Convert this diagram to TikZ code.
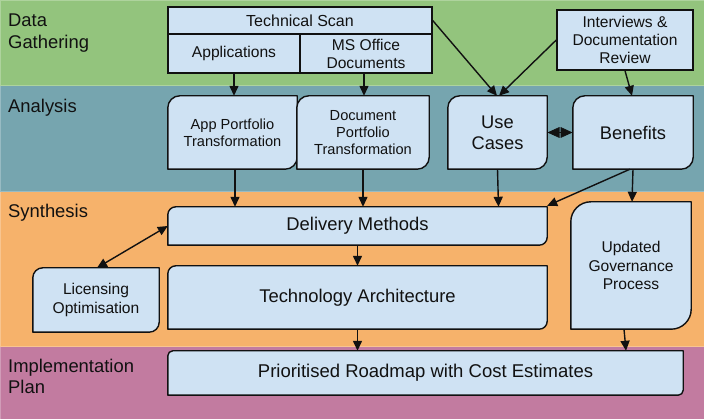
\documentclass[tikz,border=0pt]{standalone}
\usepackage{fontspec}
\setmainfont{Liberation Sans}
\usetikzlibrary{arrows.meta,calc}
\definecolor{bandgreen}{HTML}{93C47D}
\definecolor{bandteal}{HTML}{76A5AF}
\definecolor{bandorange}{HTML}{F6B26B}
\definecolor{bandpurple}{HTML}{C27BA0}
\definecolor{boxfill}{HTML}{CFE2F3}
\definecolor{inkc}{HTML}{111111}
\pgfdeclarelayer{bands}
\pgfdeclarelayer{boxes}
\pgfsetlayers{bands,boxes,main}
\newcommand\fs[1]{\fontsize{#1pt}{#1pt}\selectfont\setlength\baselineskip{1.16\dimexpr #1pt\relax}}
\tikzset{
  x=1pt,y=1pt,
  band/.style={fill=#1, draw=#1!75!white, line width=0.8pt},
  bandlabel/.style={anchor=north west, inner sep=0pt, align=left, font=\fs{18.4}, text=inkc},
  holder/.style={inner sep=0pt, align=center, text=inkc},
  plainbox/.style={holder, draw=inkc, fill=boxfill, line width=1.4pt},
  outline/.style={draw=inkc, fill=boxfill, line width=1.4pt, line join=round},
  conn/.style={draw=inkc, line width=1.4pt, -{Triangle[length=10pt,width=9pt]}},
  bothconn/.style={draw=inkc, line width=1.4pt, {Triangle[length=10pt,width=9pt]}-{Triangle[length=10pt,width=9pt]}},
  headfill/.style={fill=inkc, draw=inkc, line width=0.6pt, line join=miter},
}
\newcommand\diagbox[2]{%
  \begin{pgfonlayer}{boxes}
  \path[outline] (#1.north east) -- ([xshift=#2]#1.north west)
     arc[start angle=90,end angle=180,radius=#2]
     -- (#1.south west) -- ([xshift=-#2]#1.south east)
     arc[start angle=270,end angle=360,radius=#2] -- cycle;
  \end{pgfonlayer}}
\begin{document}
\begin{tikzpicture}
\useasboundingbox (0,0) rectangle (704,419);
\begin{pgfonlayer}{bands}
  \path[band=bandpurple] (0,0) rectangle (704,73);
  \path[band=bandorange] (0,73) rectangle (704,228);
  \path[band=bandteal] (0,228) rectangle (704,334);
  \path[band=bandgreen] (0,334) rectangle (704,419);
\end{pgfonlayer}
% band labels
\node[bandlabel] (lbldata) at (8,405) {Data\\Gathering};
\node[bandlabel] (lblanal) at (8,320) {Analysis};
\node[bandlabel] (lblsyn) at (8,215) {Synthesis};
\node[bandlabel] (lblimpl) at (8,60) {Implementation\\Plan};
% data gathering
\node[plainbox, minimum width=264, minimum height=27, font=\fs{16}] (tscan) at (300,398.5) {Technical Scan};
\node[plainbox, minimum width=132, minimum height=39, font=\fs{15.6}] (apps) at (234,365.5) {Applications};
\node[plainbox, minimum width=132, minimum height=39, font=\fs{15.6}] (msoff) at (366,365.5) {MS Office\\Documents};
\node[plainbox, minimum width=136, minimum height=60, font=\fs{15.6}] (intv) at (625,379) {Interviews \&\\Documentation\\Review};
% analysis
\node[holder, minimum width=129, minimum height=73, font=\fs{14.6}] (appt) at (232.5,286.5) {App Portfolio\\Transformation};
\diagbox{appt}{12}
\node[holder, minimum width=132, minimum height=73, font=\fs{14.6}] (doct) at (363,286.5) {Document\\Portfolio\\Transformation};
\diagbox{doct}{12}
\node[holder, minimum width=99, minimum height=73, font=\fs{18.3}] (usec) at (497.5,286.5) {Use\\Cases};
\diagbox{usec}{12}
\node[holder, minimum width=120, minimum height=73, font=\fs{18.3}] (bene) at (633,286.5) {Benefits};
\diagbox{bene}{12}
% synthesis
\node[holder, minimum width=379, minimum height=38, font=\fs{18.4}] (deliv) at (357.5,193) {Delivery Methods};
\diagbox{deliv}{8}
\node[holder, minimum width=379, minimum height=63, font=\fs{18.4}] (tech) at (357.5,121.5) {Technology Architecture};
\diagbox{tech}{8}
\node[holder, minimum width=126, minimum height=64, font=\fs{15.6}] (lic) at (96,119) {Licensing\\Optimisation};
\diagbox{lic}{10}
\node[holder, minimum width=120, minimum height=127, font=\fs{15.6}] (gov) at (631,153.5) {Updated\\Governance\\Process};
\diagbox{gov}{20}
% implementation
\node[holder, minimum width=515, minimum height=44, font=\fs{18.5}] (road) at (425.5,46) {Prioritised Roadmap with Cost Estimates};
\diagbox{road}{5}
% connectors
\draw[conn] (apps.south) -- (apps.south |- appt.north);
\draw[conn] ([xshift=-2]msoff.south) -- ([xshift=-2]msoff.south |- doct.north);
\draw[conn] (tscan.east) -- ([xshift=-0.5]usec.north);
\draw[conn] (intv.west) -- ([xshift=1.5]usec.north);
\draw[conn] (intv.south) -- ([xshift=-1]bene.north);
% double-headed connector between Use Cases and Benefits
\coordinate (ubmid) at ($(usec.east)!0.5!(bene.west)$);
\draw[draw=inkc, line width=1.4pt] (usec.east) -- (bene.west);
\fill[headfill] ([xshift=1]usec.east) -- ([xshift=-0.8,yshift=5]ubmid) -- ([xshift=-0.8,yshift=-5]ubmid) -- cycle;
\fill[headfill] ([xshift=-1]bene.west) -- ([xshift=0.8,yshift=5]ubmid) -- ([xshift=0.8,yshift=-5]ubmid) -- cycle;
\draw[conn] ([xshift=2.5]appt.south) -- ([xshift=2.5]appt.south |- deliv.north);
\draw[conn] (doct.south) -- (doct.south |- deliv.north);
\draw[conn] (usec.south) -- ([xshift=1]usec.south |- deliv.north);
\draw[conn] ([xshift=-3]bene.south) -- ([yshift=1]deliv.north east);
\draw[conn] (bene.south) -- ([xshift=-1]bene.south |- gov.north);
\draw[conn] (deliv.south) -- (deliv.south |- tech.north);
\draw[conn] (tech.south) -- (tech.south |- road.north);
\draw[conn] ([xshift=-7]gov.south) -- ([xshift=-5]gov.south |- road.north);
\draw[bothconn] ([xshift=1]lic.north) -- (deliv.west);
\end{tikzpicture}
\end{document}
